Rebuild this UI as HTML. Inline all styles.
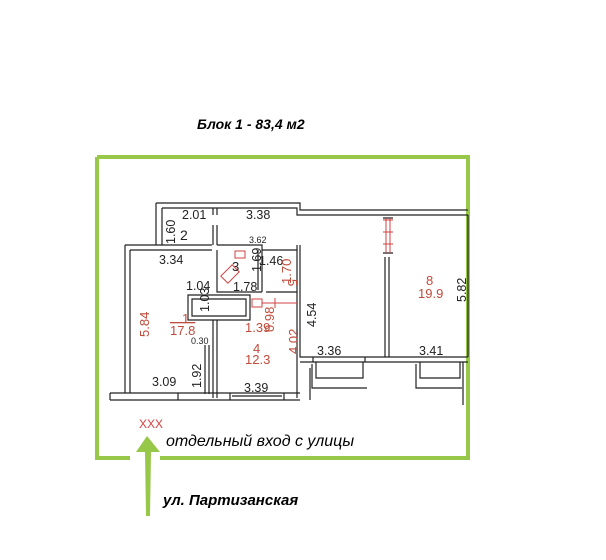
<!DOCTYPE html>
<html><head><meta charset="utf-8"><style>
html,body{margin:0;padding:0;background:#fff;}
svg{display:block}
</style></head><body>
<svg width="606" height="560" viewBox="0 0 606 560" xmlns="http://www.w3.org/2000/svg" font-family="Liberation Sans, sans-serif">
<path d="M97 157 H468 V458 H160 M130 458 H97 V157" fill="none" stroke="#97c84a" stroke-width="4"/>
<path d="M147 436 L160 452 L151 452 L150 516 L146 516 L145 452 L136 452 Z" fill="#97c84a"/>
<text x="197" y="129" font-size="14" font-weight="bold" font-style="italic">Блок 1 - 83,4 м2</text>
<text x="166" y="446" font-size="16" font-style="italic">отдельный вход с улицы</text>
<text x="163" y="505" font-size="15" font-weight="bold" font-style="italic">ул. Партизанская</text>
<text x="139" y="428" font-size="12" fill="#d04040">XXX</text>
<g fill="none" stroke="#222" stroke-width="1.2">
<path d="M156 203 H300 V210 H468"/>
<path d="M162 208 H297 V215 H468"/>
<path d="M156 203 V245 M162 208 V245"/>
<path d="M125 245 H212 M130 250 H212"/>
<path d="M213 208 V215 M217 208 V215 M213 225 V245 M217 225 V245"/>
<path d="M125 245 V393 M130 250 V393"/>
<path d="M217 245 H262 V292 M217 250 V292 H262"/>
<path d="M258 250 V290"/>
<path d="M262 250 H297 M266 292 H297"/>
<path d="M297 245 V398 M300 245 V357 H468 M300 362 H468"/>
<path d="M188 295 H250 V320 H188 Z M192 299 H246 V316 H192 Z"/>
<path d="M213 320 V398 M217 320 V398 M205 345 V394 M209 345 V394"/>
<path d="M110 393 H300 M110 400 H300 M110 393 V400"/>
<path d="M178 393 V400 M230 393 V400 M284 393 V400 M232 396 H282"/>
<path d="M385 257 V357 M389 257 V357"/>
<path d="M383 218 H393 M383 253 H393"/>
<path d="M468 215 V357"/>
<path d="M316 362 V378 H363 V362 M312 364 V388 H367 M313 357 V362 M365 357 V362"/>
<path d="M420 362 V378 H460 V362 M416 364 V388 H462 M463 362 V405"/>
<path d="M310 368 V400"/>
</g>
<g fill="none" stroke="#d04040" stroke-width="1">
<path d="M383 220 H393 M383 232 H393 M383 244 H393 M386 218 V253 M390 218 V253"/>
<rect x="222" y="269" width="16" height="10" transform="rotate(-45 230 274)"/>
<rect x="235" y="251" width="10" height="7"/>
<rect x="252" y="299" width="10" height="8"/>
<path d="M262 303 H297 M275 298 V308"/>
</g>
<g font-size="12.5" fill="#222">
<text x="182" y="219">2.01</text>
<text x="246" y="219">3.38</text>
<text x="180" y="240" font-size="14">2</text>
<text x="249" y="243" font-size="9">3.62</text>
<text x="159" y="264">3.34</text>
<text x="186" y="290">1.04</text>
<text x="233" y="291">1.78</text>
<text x="259" y="265">1.46</text>
<text x="232" y="271" font-size="13">3</text>
<text x="191" y="344" font-size="9">0.30</text>
<text x="152" y="386">3.09</text>
<text x="244" y="392">3.39</text>
<text x="317" y="355">3.36</text>
<text x="419" y="355">3.41</text>
<text transform="translate(175 244) rotate(-90)">1.60</text>
<text transform="translate(209 312) rotate(-90)">1.03</text>
<text transform="translate(201 388) rotate(-90)">1.92</text>
<text transform="translate(261 272) rotate(-90)">1.69</text>
<text transform="translate(316 327) rotate(-90)">4.54</text>
<text transform="translate(466 302) rotate(-90)">5.82</text>
</g>
<g font-size="13" fill="#c04b3a">
<text x="182" y="323">1</text>
<text x="170" y="335" text-decoration="overline">17.8</text>
<text x="245" y="332">1.39</text>
<text x="253" y="353">4</text>
<text x="245" y="364">12.3</text>
<text x="426" y="285">8</text>
<text x="418" y="298">19.9</text>
<text transform="translate(149 337) rotate(-90)">5.84</text>
<text transform="translate(274 332) rotate(-90)">0.98</text>
<text transform="translate(298 354) rotate(-90)">4.02</text>
<text transform="translate(288 279) rotate(90)">5</text>
<text transform="translate(291 284) rotate(-90)">1.70</text>
</g>
</svg>
</body></html>
